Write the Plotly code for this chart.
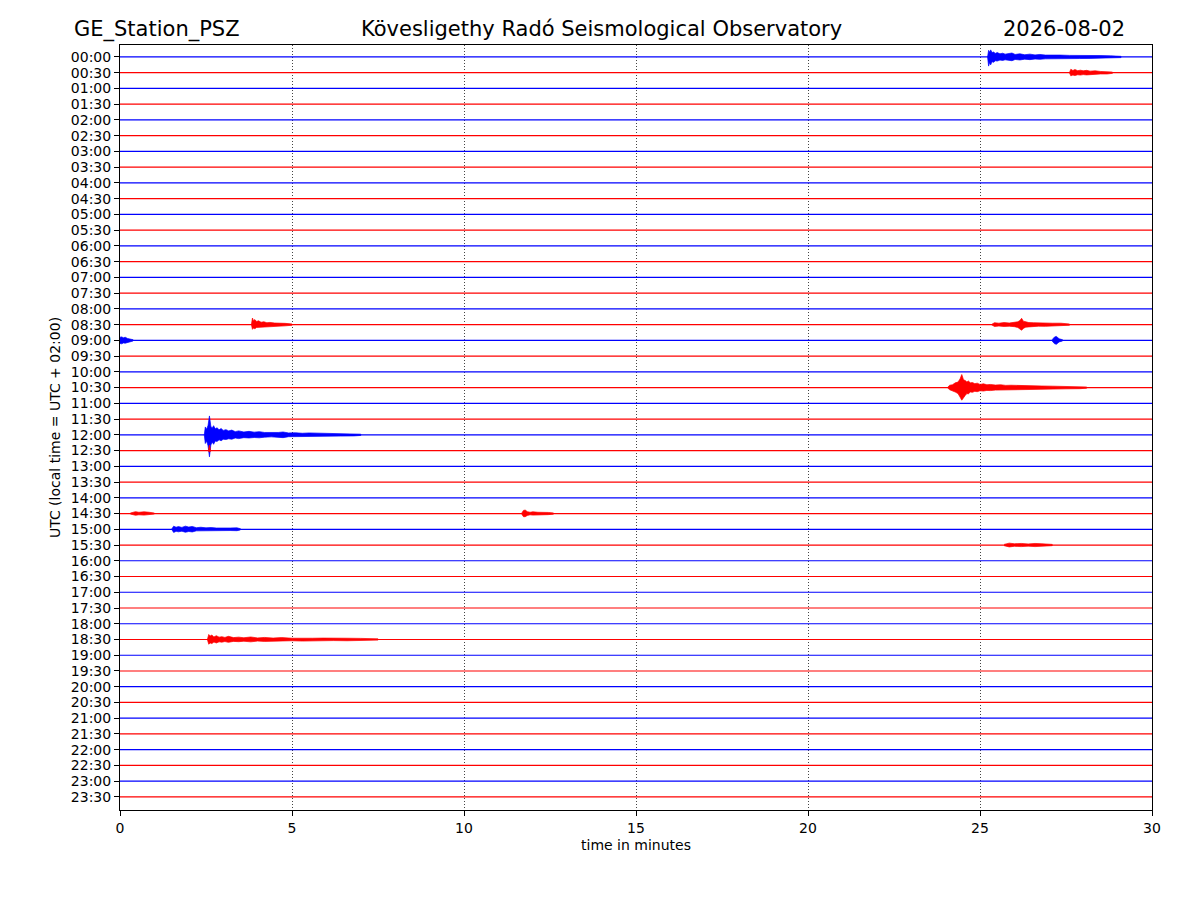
import plotly.graph_objects as go

# ---- data -------------------------------------------------------------
station = "GE_Station_PSZ"
observatory = "Kövesligethy Radó Seismological Observatory"
date_label = "2026-08-02"

row_labels = ["00:00", "00:30", "01:00", "01:30", "02:00", "02:30", "03:00", "03:30",
              "04:00", "04:30", "05:00", "05:30", "06:00", "06:30", "07:00", "07:30",
              "08:00", "08:30", "09:00", "09:30", "10:00", "10:30", "11:00", "11:30",
              "12:00", "12:30", "13:00", "13:30", "14:00", "14:30", "15:00", "15:30",
              "16:00", "16:30", "17:00", "17:30", "18:00", "18:30", "19:00", "19:30",
              "20:00", "20:30", "21:00", "21:30", "22:00", "22:30", "23:00", "23:30"]
x_ticks = [0, 5, 10, 15, 20, 25, 30]
trace_span = [0, 30]  # minutes covered by each row

# events: row index, time (min), upward and downward envelope (row spacing units)
ev0_row = 0
ev0_t = [25.22, 25.25, 25.28, 25.31, 25.35, 25.40, 25.44, 25.50, 25.58, 25.66, 25.73, 25.82, 25.93, 26.02,
         26.16, 26.3, 26.45, 26.6, 26.74, 26.9, 27.03, 27.2, 27.33, 27.6, 27.9, 28.2, 28.49, 28.8, 29.1]
ev0_up = [0, 0.42, 0.30, 0.45, 0.28, 0.32, 0.22, 0.28, 0.20, 0.24, 0.18, 0.22, 0.25, 0.16,
          0.20, 0.14, 0.18, 0.13, 0.16, 0.12, 0.13, 0.10, 0.12, 0.10, 0.11, 0.09, 0.09, 0.07, 0.04]
ev0_dn = [0, 0.58, 0.35, 0.50, 0.30, 0.34, 0.24, 0.26, 0.20, 0.22, 0.18, 0.20, 0.24, 0.16,
          0.19, 0.14, 0.17, 0.13, 0.15, 0.12, 0.13, 0.10, 0.12, 0.10, 0.10, 0.09, 0.09, 0.07, 0.04]

ev1_row = 1
ev1_t = [27.6, 27.64, 27.7, 27.76, 27.84, 27.92, 28.0, 28.1, 28.2, 28.35, 28.5, 28.7, 28.85]
ev1_up = [0, 0.22, 0.14, 0.20, 0.13, 0.16, 0.12, 0.15, 0.10, 0.12, 0.08, 0.08, 0.04]
ev1_dn = [0, 0.20, 0.15, 0.18, 0.13, 0.15, 0.12, 0.14, 0.10, 0.11, 0.08, 0.08, 0.04]

ev2_row = 17
ev2_t = [3.82, 3.85, 3.88, 3.92, 3.97, 4.03, 4.1, 4.18, 4.27, 4.36, 4.5, 4.65, 4.8, 5.0]
ev2_up = [0, 0.42, 0.25, 0.32, 0.20, 0.24, 0.15, 0.18, 0.12, 0.14, 0.10, 0.11, 0.08, 0.04]
ev2_dn = [0, 0.30, 0.22, 0.26, 0.18, 0.20, 0.15, 0.16, 0.12, 0.13, 0.10, 0.10, 0.08, 0.04]

ev3_row = 17
ev3_t = [25.33, 25.42, 25.55, 25.7, 25.85, 26.0, 26.1, 26.16, 26.21, 26.26, 26.33, 26.42, 26.55, 26.7,
         26.9, 27.1, 27.35, 27.6]
ev3_up = [0, 0.12, 0.09, 0.13, 0.10, 0.14, 0.18, 0.26, 0.40, 0.22, 0.16, 0.13, 0.12, 0.10,
          0.12, 0.09, 0.09, 0.04]
ev3_dn = [0, 0.12, 0.09, 0.12, 0.10, 0.13, 0.18, 0.28, 0.36, 0.24, 0.16, 0.13, 0.12, 0.10,
          0.11, 0.09, 0.08, 0.04]

ev4_row = 18
ev4_t = [0.0, 0.05, 0.1, 0.15, 0.22, 0.3, 0.38]
ev4_up = [0.20, 0.22, 0.16, 0.20, 0.12, 0.10, 0.04]
ev4_dn = [0.20, 0.22, 0.16, 0.18, 0.12, 0.10, 0.04]

ev5_row = 18
ev5_t = [27.1, 27.17, 27.22, 27.3, 27.4]
ev5_up = [0.05, 0.22, 0.25, 0.10, 0.04]
ev5_dn = [0.05, 0.22, 0.25, 0.10, 0.04]

ev6_row = 21
ev6_t = [24.05, 24.12, 24.2, 24.28, 24.36, 24.42, 24.47, 24.52, 24.57, 24.62, 24.66, 24.72, 24.78,
         24.85, 24.92, 25.0, 25.1, 25.2, 25.3, 25.45, 25.6, 25.75, 25.9, 26.1, 26.3, 26.5, 26.8,
         27.1, 27.5, 27.9, 28.1]
ev6_up = [0, 0.15, 0.18, 0.30, 0.35, 0.55, 0.83, 0.50, 0.45, 0.35, 0.42, 0.30, 0.32,
          0.25, 0.28, 0.20, 0.24, 0.18, 0.20, 0.16, 0.18, 0.14, 0.15, 0.13, 0.14, 0.10, 0.10,
          0.09, 0.08, 0.07, 0.04]
ev6_dn = [0, 0.14, 0.20, 0.28, 0.38, 0.60, 0.80, 0.65, 0.50, 0.38, 0.40, 0.28, 0.30,
          0.24, 0.26, 0.20, 0.22, 0.18, 0.19, 0.16, 0.17, 0.14, 0.15, 0.13, 0.13, 0.10, 0.10,
          0.09, 0.08, 0.07, 0.04]

ev7_row = 24
ev7_t = [2.45, 2.48, 2.52, 2.56, 2.6, 2.64, 2.68, 2.72, 2.77, 2.82, 2.88, 2.94, 3.0, 3.08, 3.16,
         3.25, 3.35, 3.45, 3.6, 3.75, 3.9, 4.05, 4.2, 4.4, 4.6, 4.74, 4.9, 5.1, 5.3, 5.5, 5.8,
         6.1, 6.4, 6.8, 7.0]
ev7_up = [0, 0.50, 0.35, 0.60, 1.20, 0.55, 0.42, 0.58, 0.38, 0.45, 0.32, 0.40, 0.28, 0.33, 0.25,
          0.30, 0.20, 0.25, 0.18, 0.22, 0.17, 0.20, 0.15, 0.13, 0.15, 0.18, 0.12, 0.13, 0.10, 0.12, 0.10,
          0.10, 0.08, 0.07, 0.04]
ev7_dn = [0, 0.55, 0.40, 0.70, 1.40, 0.65, 0.45, 0.60, 0.40, 0.42, 0.32, 0.38, 0.28, 0.30, 0.25,
          0.28, 0.20, 0.24, 0.18, 0.20, 0.17, 0.19, 0.15, 0.13, 0.14, 0.18, 0.12, 0.12, 0.10, 0.11, 0.10,
          0.09, 0.08, 0.07, 0.04]

ev8_row = 25
ev8_t = [2.57, 2.6, 2.63]
ev8_up = [0.05, 0.35, 0.05]
ev8_dn = [0.05, 0.08, 0.05]

ev9_row = 29
ev9_t = [11.68, 11.73, 11.78, 11.84, 11.92, 12.0, 12.15, 12.3, 12.45, 12.6]
ev9_up = [0.04, 0.20, 0.22, 0.12, 0.08, 0.11, 0.08, 0.09, 0.07, 0.04]
ev9_dn = [0.04, 0.20, 0.20, 0.12, 0.08, 0.10, 0.08, 0.09, 0.07, 0.04]

ev10_row = 29
ev10_t = [0.3, 0.45, 0.55, 0.7, 0.85, 1.0]
ev10_up = [0.03, 0.12, 0.08, 0.11, 0.08, 0.03]
ev10_dn = [0.03, 0.11, 0.08, 0.10, 0.08, 0.03]

ev11_row = 30
ev11_t = [1.5, 1.56, 1.63, 1.7, 1.8, 1.9, 2.0, 2.1, 2.22, 2.35, 2.5, 2.65, 2.8, 3.0, 3.2, 3.4, 3.5]
ev11_up = [0, 0.20, 0.13, 0.17, 0.12, 0.20, 0.14, 0.18, 0.10, 0.13, 0.09, 0.11, 0.08, 0.10, 0.08, 0.09, 0.04]
ev11_dn = [0, 0.20, 0.13, 0.16, 0.12, 0.19, 0.14, 0.17, 0.10, 0.12, 0.09, 0.10, 0.08, 0.09, 0.08, 0.09, 0.04]

ev12_row = 31
ev12_t = [25.7, 25.85, 26.0, 26.2, 26.4, 26.6, 26.8, 27.1]
ev12_up = [0.04, 0.12, 0.08, 0.10, 0.07, 0.10, 0.08, 0.04]
ev12_dn = [0.04, 0.12, 0.08, 0.10, 0.07, 0.10, 0.08, 0.04]

ev13_row = 37
ev13_t = [2.54, 2.58, 2.62, 2.67, 2.73, 2.8, 2.88, 2.96, 3.05, 3.15, 3.3, 3.45, 3.6, 3.8, 4.0, 4.2,
          4.45, 4.7, 5.0, 5.3, 5.6, 5.9, 6.2, 6.6, 7.0, 7.5]
ev13_up = [0, 0.32, 0.22, 0.28, 0.16, 0.24, 0.15, 0.18, 0.13, 0.20, 0.12, 0.15, 0.11, 0.16, 0.10, 0.13,
           0.09, 0.12, 0.08, 0.10, 0.08, 0.09, 0.07, 0.08, 0.07, 0.04]
ev13_dn = [0, 0.30, 0.22, 0.26, 0.16, 0.22, 0.15, 0.17, 0.13, 0.18, 0.12, 0.14, 0.11, 0.15, 0.10, 0.12,
           0.09, 0.11, 0.08, 0.10, 0.08, 0.09, 0.07, 0.08, 0.07, 0.04]

events = [
    (ev0_row, ev0_t, ev0_up, ev0_dn), (ev1_row, ev1_t, ev1_up, ev1_dn),
    (ev2_row, ev2_t, ev2_up, ev2_dn), (ev3_row, ev3_t, ev3_up, ev3_dn),
    (ev4_row, ev4_t, ev4_up, ev4_dn), (ev5_row, ev5_t, ev5_up, ev5_dn),
    (ev6_row, ev6_t, ev6_up, ev6_dn), (ev7_row, ev7_t, ev7_up, ev7_dn),
    (ev8_row, ev8_t, ev8_up, ev8_dn), (ev9_row, ev9_t, ev9_up, ev9_dn),
    (ev10_row, ev10_t, ev10_up, ev10_dn), (ev11_row, ev11_t, ev11_up, ev11_dn),
    (ev12_row, ev12_t, ev12_up, ev12_dn), (ev13_row, ev13_t, ev13_up, ev13_dn),
]

# ---- figure -----------------------------------------------------------
FONT = "DejaVu Sans"
fig = go.Figure()

for i, lab in enumerate(row_labels):
    col = "#0000ff" if i % 2 == 0 else "#ff0000"
    fig.add_trace(go.Scatter(
        x=trace_span, y=[i, i], mode="lines",
        line=dict(color=col, width=1.2), hoverinfo="skip", showlegend=False))
    for row, t, up, dn in events:
        if row != i:
            continue
        xs = list(t) + list(reversed(t))
        ys = [row - u for u in up] + [row + d for d in reversed(dn)]
        fig.add_trace(go.Scatter(
            x=xs, y=ys, mode="lines", fill="toself", fillcolor=col,
            line=dict(color=col, width=0.7), hoverinfo="skip", showlegend=False))

# page body adds an 8px margin, so the figure is sized 1184x884
fig.update_layout(
    width=1184, height=884,
    margin=dict(l=112, r=40, t=37, b=82),
    paper_bgcolor="white", plot_bgcolor="white",
    font=dict(family=FONT, size=14, color="black"),
    showlegend=False,
)

fig.update_xaxes(
    range=[0, 30], tickvals=x_ticks, ticks="outside", ticklen=5, tickcolor="black",
    showline=True, linecolor="black", linewidth=1, mirror=True,
    showgrid=True, gridcolor="#444444", gridwidth=0.8, griddash="1px,2px",
    zeroline=False, tickfont=dict(size=14),
    title=dict(text="time in minutes", font=dict(size=14), standoff=5),
)
fig.update_yaxes(
    range=[len(row_labels) - 1 + 0.83, -0.76],
    tickvals=list(range(len(row_labels))), ticktext=row_labels,
    ticks="outside", ticklen=5, tickcolor="black",
    showline=True, linecolor="black", linewidth=1, mirror=True,
    showgrid=False, zeroline=False, tickfont=dict(size=14),
    title=dict(text="UTC (local time = UTC + 02:00)", font=dict(size=14), standoff=6),
)

title_y = 1 + (45 - 29) / 765
fig.add_annotation(text=station, xref="paper", yref="paper", x=(72 - 120) / 1032, y=title_y,
                   xanchor="left", yanchor="middle", showarrow=False, font=dict(size=21))
fig.add_annotation(text=observatory, xref="paper", yref="paper", x=(601 - 120) / 1032, y=title_y,
                   xanchor="center", yanchor="middle", showarrow=False, font=dict(size=21))
fig.add_annotation(text=date_label, xref="paper", yref="paper", x=(1127 - 120) / 1032, y=title_y,
                   xanchor="right", yanchor="middle", showarrow=False, font=dict(size=21))

fig.write_html("out.html")
